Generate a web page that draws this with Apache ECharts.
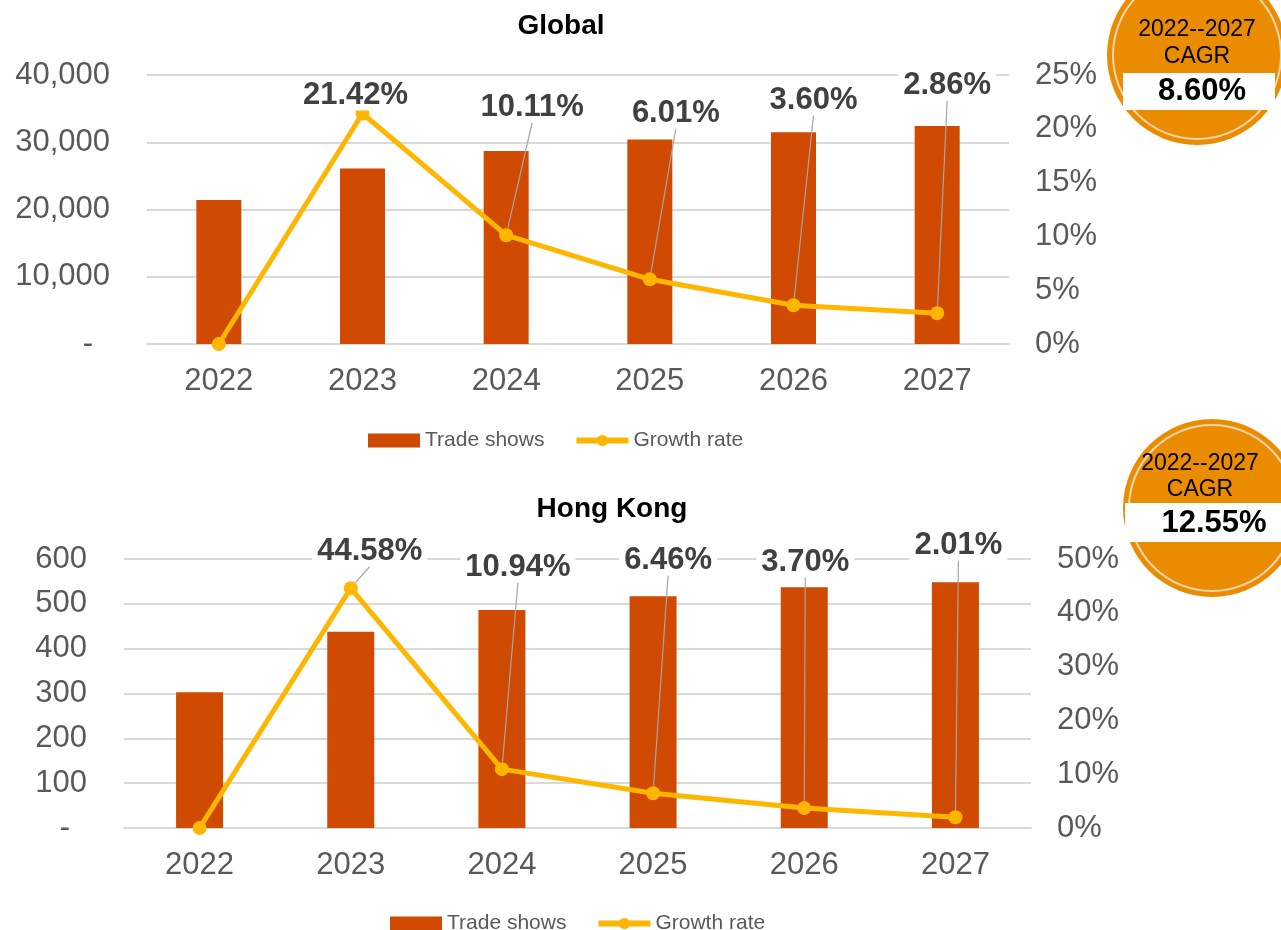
<!DOCTYPE html>
<html>
<head>
<meta charset="utf-8">
<script src="https://cdn.jsdelivr.net/npm/echarts@6/dist/echarts.min.js"></script>
<style>
  html, body { margin: 0; padding: 0; background: #fff; }
  #chart { width: 1281px; height: 930px; }
</style>
</head>
<body>
<div id="chart"></div>
<script>
// data
const years = ['2022', '2023', '2024', '2025', '2026', '2027'];
const globalShows = [21400, 26100, 28700, 30400, 31500, 32400];
const globalGrowth = [0, 21.42, 10.11, 6.01, 3.60, 2.86];
const hkShows = [303, 438, 486, 517, 537, 548];
const hkGrowth = [0, 44.58, 10.94, 6.46, 3.70, 2.01];
const globalCagr = '8.60%';
const hkCagr = '12.55%';

// label placement (dx from point, absolute y of label centre)
const globalLabelDx = [0, -7, 26, 26, 20, 10];
const globalLabelY = [0, 95, 107, 113, 100, 85];
const hkLabelDx = [0, 19, 16, 15, 1, 3];
const hkLabelY = [0, 551, 567, 560, 562, 545];

const BAR = '#D04A02';
const LINE = '#FFB600';
const GRID = '#D9D9D9';
const AXIS_TXT = '#595959';
const FONT = 'Liberation Sans, Arial, sans-serif';

const chart = echarts.init(document.getElementById('chart'));

function leftLabel(v) {
  if (v === 0) return '{d|-}';
  return echarts.format.addCommas(v);
}

function growthSeries(name, data, xi, yi, dxArr, yArr) {
  // first year has no growth label
  const items = data.map(function (v, i) {
    if (i === 0) return { value: v, label: { show: false }, labelLine: { show: false } };
    return v;
  });
  return {
    name: name,
    type: 'line',
    xAxisIndex: xi,
    yAxisIndex: yi,
    data: items,
    symbol: 'circle',
    symbolSize: 14,
    lineStyle: { color: LINE, width: 5 },
    itemStyle: { color: LINE },
    z: 5,
    label: {
      show: true,
      position: 'top',
      formatter: function (p) {
        return p.value.toFixed(2) + '%';
      },
      fontFamily: FONT,
      fontSize: 31,
      fontWeight: 'bold',
      color: '#404040',
      backgroundColor: '#fff',
      padding: [0, 5]
    },
    labelLine: {
      show: true,
      lineStyle: { color: '#A6A6A6', width: 1.2 }
    },
    labelLayout: function (p) {
      const i = p.dataIndex;
      if (i === 0) return {};
      return {
        x: p.rect.x + p.rect.width / 2 + dxArr[i],
        y: yArr[i],
        align: 'center',
        verticalAlign: 'middle'
      };
    }
  };
}

function barSeries(name, data, xi, yi, w) {
  return {
    name: name,
    type: 'bar',
    xAxisIndex: xi,
    yAxisIndex: yi,
    data: data,
    barWidth: w,
    itemStyle: { color: BAR }
  };
}

function xAxis(gi) {
  return {
    type: 'category',
    gridIndex: gi,
    data: years,
    axisLine: { show: true, lineStyle: { color: GRID, width: 2 } },
    axisTick: { show: false },
    axisLabel: { color: AXIS_TXT, fontSize: 31, fontFamily: FONT, margin: 22 }
  };
}

function leftAxis(gi, max, interval) {
  return {
    type: 'value',
    gridIndex: gi,
    min: 0,
    max: max,
    interval: interval,
    axisLine: { show: false },
    axisTick: { show: false },
    splitLine: { lineStyle: { color: GRID, width: 2 } },
    axisLabel: {
      color: AXIS_TXT, fontSize: 31, fontFamily: FONT, margin: 37,
      formatter: leftLabel,
      rich: { d: { color: AXIS_TXT, fontSize: 31, fontFamily: FONT, padding: [0, 17, 0, 0] } }
    }
  };
}

function rightAxis(gi, max, interval) {
  return {
    type: 'value',
    gridIndex: gi,
    position: 'right',
    min: 0,
    max: max,
    interval: interval,
    axisLine: { show: false },
    axisTick: { show: false },
    splitLine: { show: false },
    axisLabel: {
      color: AXIS_TXT, fontSize: 31, fontFamily: FONT, margin: 26,
      formatter: '{value}%'
    }
  };
}

function legend(top, left) {
  return {
    top: top,
    left: left,
    itemWidth: 52,
    itemHeight: 14,
    itemGap: 29,
    textStyle: { color: AXIS_TXT, fontSize: 21, fontFamily: FONT },
    data: [
      { name: 'Trade shows', icon: 'rect' },
      { name: 'Growth rate', lineStyle: { width: 6 } }
    ]
  };
}

function cagrBadge(cx, cy, r, box, texts) {
  return {
    type: 'group',
    children: [
      { type: 'circle', shape: { cx: cx, cy: cy, r: r }, style: { fill: '#EB8C00' } },
      { type: 'circle', shape: { cx: cx, cy: cy, r: r - 6 }, style: { fill: 'none', stroke: '#F4D7AF', lineWidth: 2 } },
      { type: 'rect', shape: box, style: { fill: '#fff' } },
      { type: 'text', style: { text: '2022--2027', x: texts.x, y: texts.y1, align: 'center', verticalAlign: 'middle', fontSize: 23, fontFamily: FONT, fill: '#000' } },
      { type: 'text', style: { text: 'CAGR', x: texts.x, y: texts.y2, align: 'center', verticalAlign: 'middle', fontSize: 23, fontFamily: FONT, fill: '#000' } },
      { type: 'text', style: { text: texts.value, x: texts.vx, y: texts.y3, align: 'center', verticalAlign: 'middle', fontSize: 31, fontWeight: 'bold', fontFamily: FONT, fill: '#000' } }
    ]
  };
}

const option = {
  animation: false,
  backgroundColor: '#fff',
  title: [
    { text: 'Global', left: 556, top: 7, textAlign: 'center',
      textStyle: { fontSize: 28, fontWeight: 'bold', color: '#000', fontFamily: FONT } },
    { text: 'Hong Kong', left: 607, top: 490, textAlign: 'center',
      textStyle: { fontSize: 28, fontWeight: 'bold', color: '#000', fontFamily: FONT } }
  ],
  legend: [legend(425, 363), legend(908, 385)],
  grid: [
    { left: 147, right: 272, top: 75, height: 269 },
    { left: 124, right: 250, top: 559, height: 269 }
  ],
  xAxis: [xAxis(0), xAxis(1)],
  yAxis: [
    leftAxis(0, 40000, 10000),
    rightAxis(0, 25, 5),
    leftAxis(1, 600, 100),
    rightAxis(1, 50, 10)
  ],
  series: [
    barSeries('Trade shows', globalShows, 0, 0, 45),
    growthSeries('Growth rate', globalGrowth, 0, 1, globalLabelDx, globalLabelY),
    barSeries('Trade shows', hkShows, 1, 2, 47),
    growthSeries('Growth rate', hkGrowth, 1, 3, hkLabelDx, hkLabelY)
  ],
  graphic: [
    cagrBadge(1197, 55, 90, { x: 1123, y: 73, width: 152, height: 37 },
      { x: 1197, vx: 1202, y1: 30, y2: 57, y3: 91, value: globalCagr }),
    cagrBadge(1212, 508, 89, { x: 1125, y: 503, width: 156, height: 39 },
      { x: 1200, vx: 1214, y1: 464, y2: 490, y3: 523, value: hkCagr })
  ]
};

chart.setOption(option);
window.addEventListener('resize', chart.resize);
</script>
</body>
</html>
